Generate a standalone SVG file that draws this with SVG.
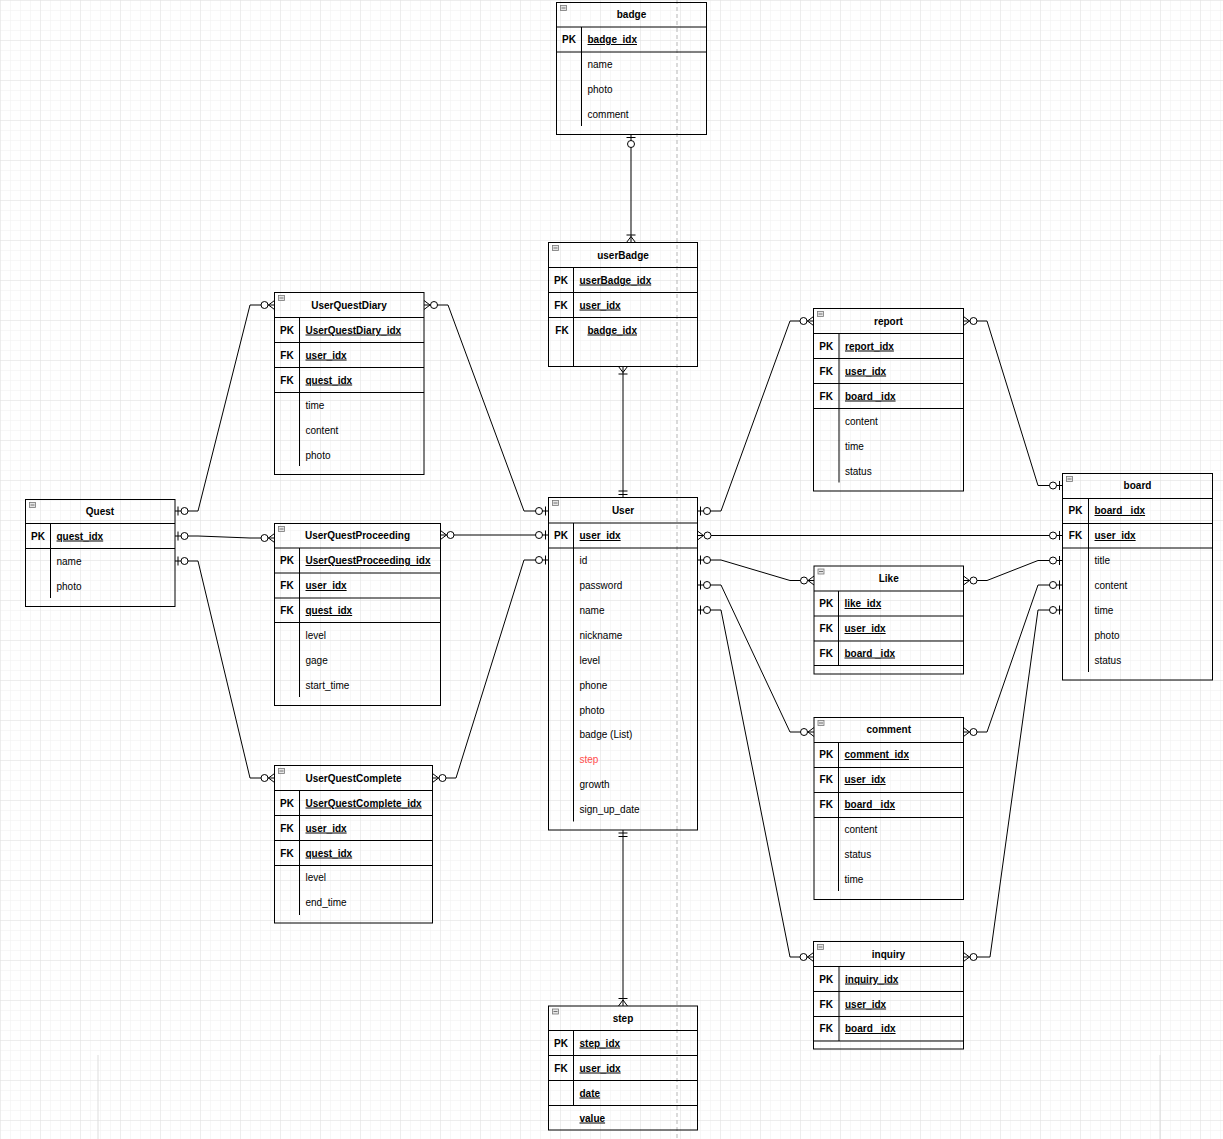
<svg xmlns="http://www.w3.org/2000/svg" width="1223" height="1139" viewBox="0 0 1223 1139">
<defs>
<pattern id="gmin" width="10" height="10" patternUnits="userSpaceOnUse">
<path d="M10 0H0V10" fill="none" stroke="#efefef" stroke-width="1"/>
</pattern>
<pattern id="gmaj" width="40" height="40" patternUnits="userSpaceOnUse">
<rect width="40" height="40" fill="url(#gmin)"/>
<path d="M40 0H0V40" fill="none" stroke="#e2e2e2" stroke-width="1"/>
</pattern>
<marker id="z1" viewBox="0 -6 24 12" markerWidth="24" markerHeight="12" refX="20" refY="0" markerUnits="userSpaceOnUse" orient="auto-start-reverse" overflow="visible">
<path d="M17 -4.5V4.5" stroke="#000" fill="none"/>
<circle cx="10.5" cy="0" r="3.5" fill="#fff" stroke="#000"/>
</marker>
<marker id="zm" viewBox="0 -6 24 12" markerWidth="24" markerHeight="12" refX="20" refY="0" markerUnits="userSpaceOnUse" orient="auto-start-reverse" overflow="visible">
<path d="M20 -4.5L14 0L20 4.5" stroke="#000" fill="none"/>
<circle cx="10" cy="0" r="3.5" fill="#fff" stroke="#000"/>
</marker>
<marker id="m1" viewBox="0 -6 24 12" markerWidth="24" markerHeight="12" refX="20" refY="0" markerUnits="userSpaceOnUse" orient="auto-start-reverse" overflow="visible">
<path d="M17 -4.5V4.5M13.5 -4.5V4.5" stroke="#000" fill="none"/>
</marker>
<marker id="om" viewBox="0 -6 24 12" markerWidth="24" markerHeight="12" refX="20" refY="0" markerUnits="userSpaceOnUse" orient="auto-start-reverse" overflow="visible">
<path d="M20 -4.5L14 0L20 4.5M12.5 -4.5V4.5" stroke="#000" fill="none"/>
</marker>
</defs>
<style>
.box{fill:none;stroke:#000;stroke-width:1}
.ln{fill:none;stroke:#000;stroke-width:1}
.ic{fill:#e6e6e6;stroke:#777;stroke-width:0.8}
.icm{stroke:#555;stroke-width:0.8}
text{font-family:"Liberation Sans",Arial,Helvetica,sans-serif;font-size:10px;fill:#000}
.t{font-weight:bold;text-anchor:middle}
.k{font-weight:bold;text-anchor:middle}
.u{font-weight:bold;text-decoration:underline}
.red{fill:#ff4d4d}
.cn{fill:none;stroke:#000;stroke-width:1}
</style>
<rect width="1223" height="1139" fill="#fff"/>
<rect width="1223" height="1139" fill="url(#gmaj)"/>
<path d="M677 0V1139" stroke="#b5b5b5" stroke-width="1" stroke-dasharray="4 3"/>
<path d="M98 1055V1139M1160 1055V1139" stroke="#dddddd" stroke-width="1"/>

<g id="connectors">
<path class="cn" d="M631 134.5V242.5" marker-start="url(#z1)" marker-end="url(#om)"/>
<path class="cn" d="M623 366.5V497.5" marker-start="url(#om)" marker-end="url(#m1)"/>
<path class="cn" d="M623 830V1006" marker-start="url(#m1)" marker-end="url(#om)"/>
<path class="cn" d="M175 511H198L250 305H274.5" marker-start="url(#z1)" marker-end="url(#zm)"/>
<path class="cn" d="M175 536H198L250 538H274.5" marker-start="url(#z1)" marker-end="url(#zm)"/>
<path class="cn" d="M175 561H198L250 778H274.5" marker-start="url(#z1)" marker-end="url(#zm)"/>
<path class="cn" d="M424 305H448L524 511H548.5" marker-start="url(#zm)" marker-end="url(#z1)"/>
<path class="cn" d="M440.5 535H548.5" marker-start="url(#zm)" marker-end="url(#z1)"/>
<path class="cn" d="M432.5 778H456L524 560H548.5" marker-start="url(#zm)" marker-end="url(#z1)"/>
<path class="cn" d="M697.5 511H721L790 321H813.5" marker-start="url(#z1)" marker-end="url(#zm)"/>
<path class="cn" d="M697.5 535.5H1062.5" marker-start="url(#zm)" marker-end="url(#z1)"/>
<path class="cn" d="M697.5 560H721L790 580.5H814" marker-start="url(#z1)" marker-end="url(#zm)"/>
<path class="cn" d="M697.5 585H721L790 732H814" marker-start="url(#z1)" marker-end="url(#zm)"/>
<path class="cn" d="M697.5 610H721L790 957H813.5" marker-start="url(#z1)" marker-end="url(#zm)"/>
<path class="cn" d="M963.5 321H987L1038 485.5H1062.5" marker-start="url(#zm)" marker-end="url(#z1)"/>
<path class="cn" d="M963.5 580.5H987L1038 560.5H1062.5" marker-start="url(#zm)" marker-end="url(#z1)"/>
<path class="cn" d="M963.5 732H987L1038 585H1062.5" marker-start="url(#zm)" marker-end="url(#z1)"/>
<path class="cn" d="M963.5 957H990L1038 610H1062.5" marker-start="url(#zm)" marker-end="url(#z1)"/>
</g>

<g id="badge">
<rect class="box" x="556.5" y="2.5" width="150" height="132"/>
<path class="ln" d="M556.5 27H706.5M556.5 52H706.5M581.5 27V126"/>
<rect class="ic" x="560.5" y="5.5" width="6" height="5"/><path class="icm" d="M561.5 8H565.5"/>
<text class="t" x="631.5" y="18">badge</text>
<text class="k" x="569" y="43">PK</text>
<text class="u" x="587.5" y="43">badge_idx</text>
<text x="587.5" y="68">name</text>
<text x="587.5" y="93">photo</text>
<text x="587.5" y="118">comment</text>
</g>

<g id="userBadge">
<rect class="box" x="548.5" y="242.5" width="149" height="124"/>
<path class="ln" d="M548.5 267.5H697.5M548.5 292.5H697.5M548.5 317.5H697.5M573.5 267.5V366.5"/>
<rect class="ic" x="552.5" y="245.5" width="6" height="5"/><path class="icm" d="M553.5 248H557.5"/>
<text class="t" x="623" y="258.5">userBadge</text>
<text class="k" x="561" y="283.5">PK</text>
<text class="u" x="579.5" y="283.5">userBadge_idx</text>
<text class="k" x="561" y="308.5">FK</text>
<text class="u" x="579.5" y="308.5">user_idx</text>
<text class="k" x="562" y="333.5">FK</text>
<text class="u" x="587.5" y="333.5">badge_idx</text>
</g>

<g id="Quest">
<rect class="box" x="25.5" y="499.5" width="149.5" height="107"/>
<path class="ln" d="M25.5 523.5H175M25.5 548.5H175M50.5 523.5V598"/>
<rect class="ic" x="29.5" y="502.5" width="6" height="5"/><path class="icm" d="M30.5 505H34.5"/>
<text class="t" x="100" y="515">Quest</text>
<text class="k" x="38" y="539.5">PK</text>
<text class="u" x="56.5" y="539.5">quest_idx</text>
<text x="56.5" y="564.5">name</text>
<text x="56.5" y="589.5">photo</text>
</g>

<g id="UserQuestDiary">
<rect class="box" x="274.5" y="292.5" width="149.5" height="182"/>
<path class="ln" d="M274.5 317.5H424M274.5 342.5H424M274.5 367.5H424M274.5 392.5H424M299.5 317.5V466"/>
<rect class="ic" x="278.5" y="295.5" width="6" height="5"/><path class="icm" d="M279.5 298H283.5"/>
<text class="t" x="349" y="308.5">UserQuestDiary</text>
<text class="k" x="287" y="333.5">PK</text>
<text class="u" x="305.5" y="333.5">UserQuestDiary_idx</text>
<text class="k" x="287" y="358.5">FK</text>
<text class="u" x="305.5" y="358.5">user_idx</text>
<text class="k" x="287" y="383.5">FK</text>
<text class="u" x="305.5" y="383.5">quest_idx</text>
<text x="305.5" y="408.5">time</text>
<text x="305.5" y="433.5">content</text>
<text x="305.5" y="458.5">photo</text>
</g>

<g id="UserQuestProceeding">
<rect class="box" x="274.5" y="523.5" width="166" height="182"/>
<path class="ln" d="M274.5 548H440.5M274.5 573H440.5M274.5 598H440.5M274.5 622.5H440.5M299.5 548V697"/>
<rect class="ic" x="278.5" y="526.5" width="6" height="5"/><path class="icm" d="M279.5 529H283.5"/>
<text class="t" x="357.5" y="539">UserQuestProceeding</text>
<text class="k" x="287" y="564">PK</text>
<text class="u" x="305.5" y="564">UserQuestProceeding_idx</text>
<text class="k" x="287" y="589">FK</text>
<text class="u" x="305.5" y="589">user_idx</text>
<text class="k" x="287" y="614">FK</text>
<text class="u" x="305.5" y="614">quest_idx</text>
<text x="305.5" y="638.5">level</text>
<text x="305.5" y="663.5">gage</text>
<text x="305.5" y="688.5">start_time</text>
</g>

<g id="UserQuestComplete">
<rect class="box" x="274.5" y="765.5" width="158" height="157.5"/>
<path class="ln" d="M274.5 790.5H432.5M274.5 815.5H432.5M274.5 840.5H432.5M274.5 865.5H432.5M299.5 790.5V915"/>
<rect class="ic" x="278.5" y="768.5" width="6" height="5"/><path class="icm" d="M279.5 771H283.5"/>
<text class="t" x="353.5" y="781.5">UserQuestComplete</text>
<text class="k" x="287" y="806.5">PK</text>
<text class="u" x="305.5" y="806.5">UserQuestComplete_idx</text>
<text class="k" x="287" y="831.5">FK</text>
<text class="u" x="305.5" y="831.5">user_idx</text>
<text class="k" x="287" y="856.5">FK</text>
<text class="u" x="305.5" y="856.5">quest_idx</text>
<text x="305.5" y="880.5">level</text>
<text x="305.5" y="905.5">end_time</text>
</g>

<g id="User">
<rect class="box" x="548.5" y="497.5" width="149" height="332.5"/>
<path class="ln" d="M548.5 523H697.5M548.5 548H697.5M573.5 523V821.5"/>
<rect class="ic" x="552.5" y="500.5" width="6" height="5"/><path class="icm" d="M553.5 503H557.5"/>
<text class="t" x="623" y="513.5">User</text>
<text class="k" x="561" y="539">PK</text>
<text class="u" x="579.5" y="539">user_idx</text>
<text x="579.5" y="563.5">id</text>
<text x="579.5" y="588.5">password</text>
<text x="579.5" y="613.5">name</text>
<text x="579.5" y="638.5">nickname</text>
<text x="579.5" y="663.5">level</text>
<text x="579.5" y="688.5">phone</text>
<text x="579.5" y="713.5">photo</text>
<text x="579.5" y="738">badge (List)</text>
<text class="red" x="579.5" y="763">step</text>
<text x="579.5" y="787.5">growth</text>
<text x="579.5" y="812.5">sign_up_date</text>
</g>

<g id="step">
<rect class="box" x="548.5" y="1006" width="149" height="124"/>
<path class="ln" d="M548.5 1030.5H697.5M548.5 1055.5H697.5M548.5 1080.5H697.5M548.5 1105.5H697.5M573.5 1030.5V1105.5"/>
<rect class="ic" x="552.5" y="1009" width="6" height="5"/><path class="icm" d="M553.5 1011.5H557.5"/>
<text class="t" x="623" y="1021.5">step</text>
<text class="k" x="561" y="1046.5">PK</text>
<text class="u" x="579.5" y="1046.5">step_idx</text>
<text class="k" x="561" y="1071.5">FK</text>
<text class="u" x="579.5" y="1071.5">user_idx</text>
<text class="u" x="579.5" y="1096.5">date</text>
<text class="u" x="579.5" y="1121.5">value</text>
</g>

<g id="report">
<rect class="box" x="813.5" y="308.5" width="150" height="182.5"/>
<path class="ln" d="M813.5 333.5H963.5M813.5 358.5H963.5M813.5 383.5H963.5M813.5 408.5H963.5M839 333.5V482.5"/>
<rect class="ic" x="817.5" y="311.5" width="6" height="5"/><path class="icm" d="M818.5 314H822.5"/>
<text class="t" x="888.5" y="324.5">report</text>
<text class="k" x="826.25" y="349.5">PK</text>
<text class="u" x="845" y="349.5">report_idx</text>
<text class="k" x="826.25" y="374.5">FK</text>
<text class="u" x="845" y="374.5">user_idx</text>
<text class="k" x="826.25" y="399.5">FK</text>
<text class="u" x="845" y="399.5">board _idx</text>
<text x="845" y="424.5">content</text>
<text x="845" y="449.5">time</text>
<text x="845" y="474.5">status</text>
</g>

<g id="Like">
<rect class="box" x="814" y="566" width="149.5" height="108"/>
<path class="ln" d="M814 591H963.5M814 616H963.5M814 641H963.5M814 665.5H963.5M838.5 591V665.5"/>
<rect class="ic" x="818" y="569" width="6" height="5"/><path class="icm" d="M819 571.5H823"/>
<text class="t" x="888.75" y="582">Like</text>
<text class="k" x="826.25" y="607">PK</text>
<text class="u" x="844.5" y="607">like_idx</text>
<text class="k" x="826.25" y="632">FK</text>
<text class="u" x="844.5" y="632">user_idx</text>
<text class="k" x="826.25" y="656.5">FK</text>
<text class="u" x="844.5" y="656.5">board _idx</text>
</g>

<g id="comment">
<rect class="box" x="814" y="717.5" width="149.5" height="182"/>
<path class="ln" d="M814 742.5H963.5M814 767.5H963.5M814 792.5H963.5M814 817.5H963.5M838.5 742.5V891"/>
<rect class="ic" x="818" y="720.5" width="6" height="5"/><path class="icm" d="M819 723H823"/>
<text class="t" x="888.75" y="733">comment</text>
<text class="k" x="826.25" y="758">PK</text>
<text class="u" x="844.5" y="758">comment_idx</text>
<text class="k" x="826.25" y="783">FK</text>
<text class="u" x="844.5" y="783">user_idx</text>
<text class="k" x="826.25" y="808">FK</text>
<text class="u" x="844.5" y="808">board _idx</text>
<text x="844.5" y="833">content</text>
<text x="844.5" y="858">status</text>
<text x="844.5" y="883">time</text>
</g>

<g id="inquiry">
<rect class="box" x="813.5" y="941.5" width="150" height="107.5"/>
<path class="ln" d="M813.5 966.5H963.5M813.5 991.5H963.5M813.5 1016.5H963.5M813.5 1041H963.5M839 966.5V1041"/>
<rect class="ic" x="817.5" y="944.5" width="6" height="5"/><path class="icm" d="M818.5 947H822.5"/>
<text class="t" x="888.5" y="957.5">inquiry</text>
<text class="k" x="826.25" y="982.5">PK</text>
<text class="u" x="845" y="982.5">inquiry_idx</text>
<text class="k" x="826.25" y="1007.5">FK</text>
<text class="u" x="845" y="1007.5">user_idx</text>
<text class="k" x="826.25" y="1032">FK</text>
<text class="u" x="845" y="1032">board _idx</text>
</g>

<g id="board">
<rect class="box" x="1062.5" y="473.5" width="150" height="206.5"/>
<path class="ln" d="M1062.5 498.5H1212.5M1062.5 523.5H1212.5M1062.5 548H1212.5M1088.5 498.5V672"/>
<rect class="ic" x="1066.5" y="476.5" width="6" height="5"/><path class="icm" d="M1067.5 479H1071.5"/>
<text class="t" x="1137.5" y="489">board</text>
<text class="k" x="1075.5" y="514">PK</text>
<text class="u" x="1094.5" y="514">board _idx</text>
<text class="k" x="1075.5" y="539">FK</text>
<text class="u" x="1094.5" y="539">user_idx</text>
<text x="1094.5" y="564">title</text>
<text x="1094.5" y="588.5">content</text>
<text x="1094.5" y="613.5">time</text>
<text x="1094.5" y="638.5">photo</text>
<text x="1094.5" y="663.5">status</text>
</g>
</svg>
